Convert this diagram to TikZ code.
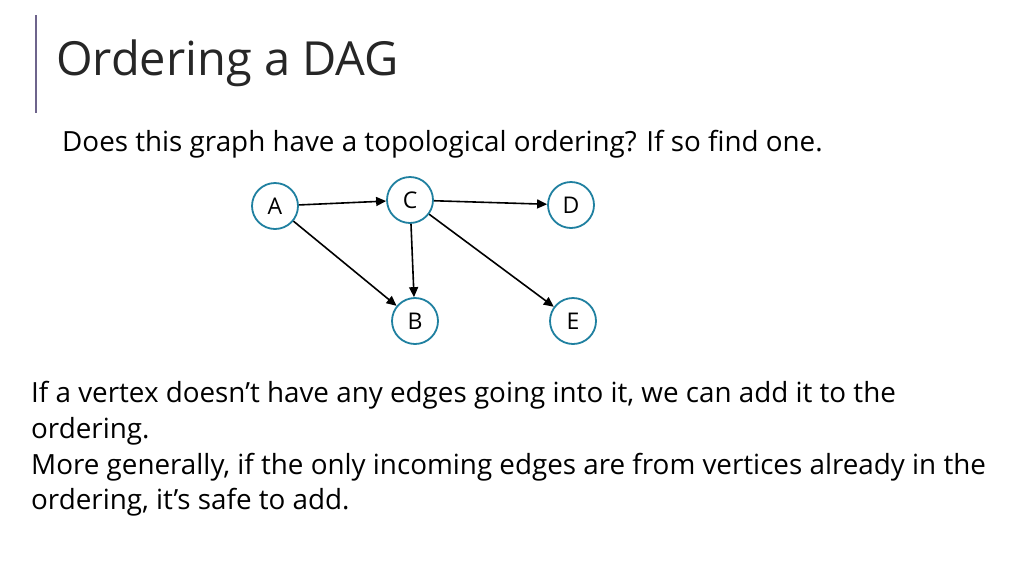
\documentclass[tikz,border=0pt]{standalone}
\usepackage{fontspec}
\setmainfont{Open Sans}
\usetikzlibrary{arrows.meta}
\definecolor{ring}{RGB}{31,128,160}
\definecolor{barc}{RGB}{110,100,140}
\begin{document}
\begin{tikzpicture}[x=1pt,y=-1pt,
  vtx/.style={circle,draw=ring,line width=1.8pt,minimum size=46pt,inner sep=0pt,font=\fontsize{23}{26}\selectfont},
  arr/.style={-{Triangle[length=10pt,width=9pt]},line width=1.6pt},
  body/.style={anchor=west,inner sep=0pt,font=\fontsize{27.8}{32}\selectfont}]
\useasboundingbox (0,0) rectangle (1024,576);
\fill[white] (0,0) rectangle (1024,576);
\draw[line width=1.5pt,color=barc] (36,15) -- (36,113);
\node[anchor=west,inner sep=0pt,font=\fontsize{47}{52}\selectfont,color=black!85] (t) at (56,63) {Ordering a DAG};
\node[body] (s) at (62,144) {Does this graph have a topological ordering? If so find one.};
\node[vtx] (A) at (275,206) {A};
\node[vtx] (C) at (410,200) {C};
\node[vtx] (D) at (571,205) {D};
\node[vtx] (B) at (415,321) {B};
\node[vtx] (E) at (573,321) {E};
\draw[arr] (A) -- (C);
\draw[arr] (C) -- (D);
\draw[arr] (A) -- (B);
\draw[arr] (C) -- (B);
\draw[arr] (C) -- (E);
\node[body] (l1) at (31,395) {If a vertex doesn’t have any edges going into it, we can add it to the};
\node[body] (l2) at (31,431) {ordering.};
\node[body] (l3) at (31,467) {More generally, if the only incoming edges are from vertices already in the};
\node[body] (l4) at (31,502) {ordering, it’s safe to add.};
\end{tikzpicture}
\end{document}
